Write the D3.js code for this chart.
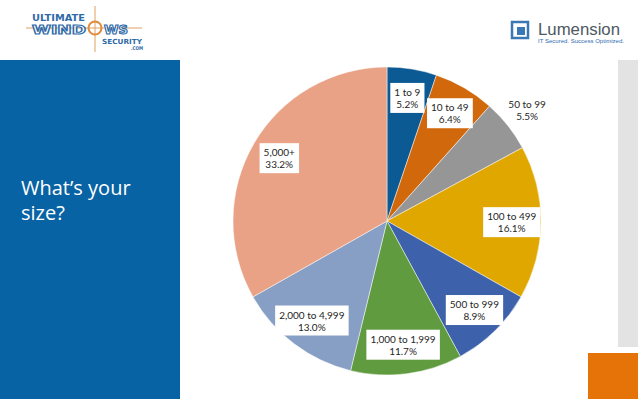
<!DOCTYPE html>
<html>
<head>
<meta charset="utf-8">
<script src="https://cdn.jsdelivr.net/npm/d3@7"></script>
<style>
  body { margin: 0; background: #fff; }
  svg { display: block; }
</style>
</head>
<body>
<div id="container"></div>
<script>
// Data
let categories = ["1 to 9", "10 to 49", "50 to 99", "100 to 499", "500 to 999",
                  "1,000 to 1,999", "2,000 to 4,999", "5,000+"];
let shares = [5.2, 6.4, 5.5, 16.1, 8.9, 11.7, 13.0, 33.2];
let sliceColors = ["#0b5a94", "#d2680c", "#969696", "#dfa700", "#3d62ab",
                   "#609b3f", "#879fc5", "#e9a285"];
// labels that sit outside the pie (no box)
let outsideLabels = ["50 to 99"];

let chart_width = 638;
let chart_height = 399;
let cx = 387, cy = 221, radius = 154;

let svg = d3.select("#container")
  .append("svg")
  .attr("width", chart_width)
  .attr("height", chart_height);

// Slide decoration
svg.append("rect")
  .attr("x", 0).attr("y", 60)
  .attr("width", 180).attr("height", chart_height - 60)
  .attr("fill", "#0863a4");

svg.append("rect")
  .attr("x", 618).attr("y", 60)
  .attr("width", 20).attr("height", 287)
  .attr("fill", "#e3e3e3");

svg.append("rect")
  .attr("x", 588).attr("y", 353)
  .attr("width", 50).attr("height", 46)
  .attr("fill", "#e57307");

// Title
let title = svg.append("text")
  .attr("fill", "#ffffff")
  .style("font-family", "'Open Sans', sans-serif")
  .style("font-size", "20px");
title.append("tspan").attr("x", 21).attr("y", 195).text("What\u2019s your");
title.append("tspan").attr("x", 21).attr("y", 220).text("size?");

// Ultimate Windows Security logo
let logoFont = "'DejaVu Sans', sans-serif";
let uws = svg.append("g");
uws.append("line")
  .attr("x1", 26).attr("x2", 142).attr("y1", 28).attr("y2", 28)
  .attr("stroke", "#e0a060").attr("stroke-width", 1);
uws.append("line")
  .attr("x1", 95).attr("x2", 95).attr("y1", 6).attr("y2", 52)
  .attr("stroke", "#e0a060").attr("stroke-width", 1);
uws.append("circle")
  .attr("cx", 95).attr("cy", 28).attr("r", 6.5)
  .attr("fill", "none").attr("stroke", "#e08a3a").attr("stroke-width", 2);

function logoText(x, y, size, len, txt, outline) {
  let t = uws.append("text")
    .attr("x", x).attr("y", y)
    .attr("textLength", len).attr("lengthAdjust", "spacingAndGlyphs")
    .style("font-family", logoFont)
    .style("font-weight", "bold").style("font-size", size + "px")
    .text(txt);
  if (outline) {
    t.attr("fill", "#ffffff").attr("stroke", "#2f6aa8").attr("stroke-width", 1.1);
  } else {
    t.attr("fill", "#2f6aa8");
  }
}
logoText(32, 20.5, 8, 53, "ULTIMATE", false);
logoText(32, 34, 12, 54, "WIND", true);
logoText(104, 34, 12, 24, "WS", true);
logoText(102, 43.5, 7, 40, "SECURITY", false);
logoText(131, 50, 5, 12, ".COM", false);

// Lumension logo
let lum = svg.append("g");
lum.append("rect")
  .attr("x", 512).attr("y", 22).attr("width", 16).attr("height", 16)
  .attr("fill", "none").attr("stroke", "#3a78b5").attr("stroke-width", 2.5);
lum.append("rect")
  .attr("x", 517).attr("y", 27).attr("width", 8).attr("height", 8)
  .attr("fill", "#3a78b5");
lum.append("text")
  .attr("x", 538).attr("y", 35)
  .attr("textLength", 82).attr("lengthAdjust", "spacingAndGlyphs")
  .attr("fill", "#4d5863")
  .style("font-family", "'Liberation Sans', sans-serif")
  .style("font-size", "17px")
  .text("Lumension");
lum.append("text")
  .attr("x", 538).attr("y", 43)
  .attr("textLength", 86).attr("lengthAdjust", "spacingAndGlyphs")
  .attr("fill", "#2d6cb0")
  .style("font-family", "'Liberation Sans', sans-serif")
  .style("font-size", "5.5px")
  .text("IT Secured. Success Optimized.");

// Pie
let pie = d3.pie().sort(null).value((d) => d.value);
let arcs = pie(categories.map((c, i) => ({ name: c, value: shares[i] })));

let arc = d3.arc().innerRadius(0).outerRadius(radius);
let labelArc = d3.arc().innerRadius(radius * 0.81).outerRadius(radius * 0.81);
let outerLabelArc = d3.arc().innerRadius(radius * 1.16).outerRadius(radius * 1.16);

let pieGroup = svg.append("g")
  .attr("transform", "translate(" + cx + "," + cy + ")");

pieGroup.selectAll("path")
  .data(arcs)
  .enter()
  .append("path")
  .attr("d", arc)
  .attr("fill", (d, i) => sliceColors[i])
  .attr("stroke", "#ffffff")
  .attr("stroke-opacity", 0.6)
  .attr("stroke-width", 0.8);

// Data labels
let labels = pieGroup.selectAll("g.label")
  .data(arcs)
  .enter()
  .append("g")
  .attr("class", "label")
  .attr("transform", (d) => {
    let outside = outsideLabels.includes(d.data.name);
    let p = outside ? outerLabelArc.centroid(d) : labelArc.centroid(d);
    return "translate(" + p[0] + "," + p[1] + ")";
  });

labels.each(function(d) {
  let g = d3.select(this);
  let outside = outsideLabels.includes(d.data.name);
  let bg = g.append("rect").attr("fill", "#ffffff");
  let t = g.append("text")
    .attr("text-anchor", "middle")
    .attr("fill", "#262626")
    .style("font-family", "Lato, sans-serif")
    .style("font-size", "10px");
  t.append("tspan").attr("x", 0).attr("y", -2).text(d.data.name);
  t.append("tspan").attr("x", 0).attr("y", 10).text(d.data.value.toFixed(1) + "%");
  if (!outside) {
    let b = t.node().getBBox();
    bg.attr("x", b.x - 4).attr("y", b.y - 3)
      .attr("width", b.width + 8).attr("height", b.height + 6);
  } else {
    bg.remove();
  }
});
</script>
</body>
</html>
